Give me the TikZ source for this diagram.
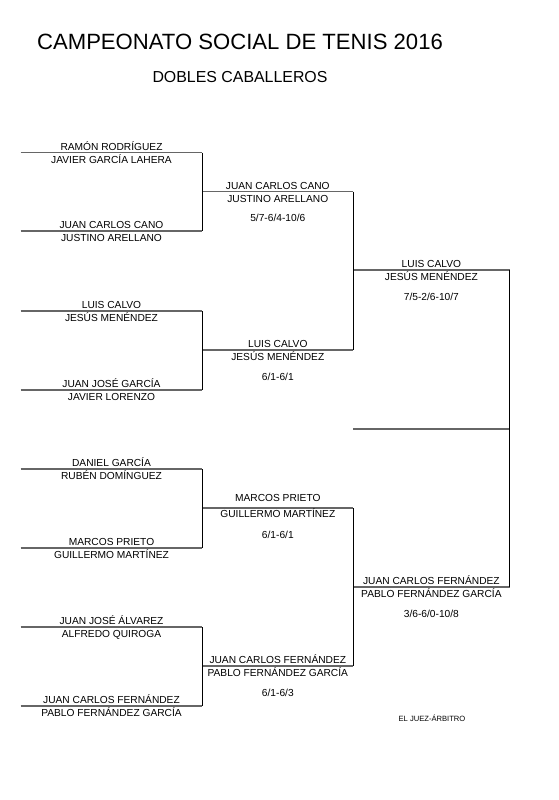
\documentclass[tikz,border=0pt]{standalone}
\usepackage{fontspec}
\setmainfont{Liberation Sans}
\newcommand\matchslot[8]{%
  \coordinate (#1-s) at (#2,#4);
  \coordinate (#1-e) at (#3,#4);
  \draw[hline] (#1-s) -- (#1-e);
  \node[pname] (#1-t) at ({(#2+#3)/2},{#4-#7}) {#5};
  \node[pname] (#1-b) at ({(#2+#3)/2},{#4+#8}) {#6};
}
\newcommand\scoreat[5]{%
  \node[pname] (#1-sc) at ({(#2+#3)/2},{#4+30}) {#5};
}
\begin{document}
\begin{tikzpicture}[x=1pt,y=-1pt,
  hline/.style={draw=black!60, line width=1.2pt},
  vline/.style={draw=black, line width=1.6pt},
  pname/.style={font=\fontsize{10.2}{12}\selectfont, inner sep=0pt, anchor=base},
  titlestyle/.style={font=\fontsize{22.1}{26}\selectfont, inner sep=0pt, anchor=base},
  subtitlestyle/.style={font=\fontsize{15.9}{19}\selectfont, inner sep=0pt, anchor=base},
  smallnote/.style={font=\fontsize{7.6}{9}\selectfont, inner sep=0pt, anchor=base}]
\useasboundingbox (0,0) rectangle (559,800);
\node[titlestyle] (title) at (240,50) {CAMPEONATO SOCIAL DE TENIS 2016};
\node[subtitlestyle] (subtitle) at (240,82) {DOBLES CABALLEROS};
% round 1
\matchslot{a1}{20.7}{202.3}{152.5}{RAMÓN RODRÍGUEZ}{JAVIER GARCÍA LAHERA}{2.5}{10.5}
\matchslot{a2}{20.7}{202.3}{231}{JUAN CARLOS CANO}{JUSTINO ARELLANO}{2.5}{10.5}
\matchslot{a3}{20.7}{202.3}{311}{LUIS CALVO}{JESÚS MENÉNDEZ}{2.5}{10.5}
\matchslot{a4}{20.7}{202.3}{390}{JUAN JOSÉ GARCÍA}{JAVIER LORENZO}{2.5}{10.5}
\matchslot{a5}{20.7}{202.3}{469}{DANIEL GARCÍA}{RUBÉN DOMÍNGUEZ}{2.5}{10.5}
\matchslot{a6}{20.7}{202.3}{548}{MARCOS PRIETO}{GUILLERMO MARTÍNEZ}{2.5}{10.5}
\matchslot{a7}{20.7}{202.3}{627}{JUAN JOSÉ ÁLVAREZ}{ALFREDO QUIROGA}{2.5}{10.5}
\matchslot{a8}{20.7}{202.3}{706}{JUAN CARLOS FERNÁNDEZ}{PABLO FERNÁNDEZ GARCÍA}{2.5}{10.5}
% round 2
\matchslot{b1}{202.3}{353.3}{191.5}{JUAN CARLOS CANO}{JUSTINO ARELLANO}{2.5}{10.5}
\scoreat{b1}{202.3}{353.3}{191.5}{5/7-6/4-10/6}
\matchslot{b2}{202.3}{353.3}{350}{LUIS CALVO}{JESÚS MENÉNDEZ}{2.5}{10.5}
\scoreat{b2}{202.3}{353.3}{350}{6/1-6/1}
\matchslot{b3}{202.3}{353.3}{508}{MARCOS PRIETO}{GUILLERMO MARTÍNEZ}{6.5}{9.5}
\scoreat{b3}{202.3}{353.3}{508}{6/1-6/1}
\matchslot{b4}{202.3}{353.3}{666}{JUAN CARLOS FERNÁNDEZ}{PABLO FERNÁNDEZ GARCÍA}{2.5}{10.5}
\scoreat{b4}{202.3}{353.3}{666}{6/1-6/3}
% round 3
\matchslot{c1}{353.3}{509.5}{270}{LUIS CALVO}{JESÚS MENÉNDEZ}{2.5}{10.5}
\scoreat{c1}{353.3}{509.5}{270}{7/5-2/6-10/7}
\matchslot{c2}{353.3}{509.5}{587}{JUAN CARLOS FERNÁNDEZ}{PABLO FERNÁNDEZ GARCÍA}{2.5}{10.5}
\scoreat{c2}{353.3}{509.5}{587}{3/6-6/0-10/8}
% final
\coordinate (f-s) at (353.3,429);
\coordinate (f-e) at (509.5,429);
\draw[hline] (f-s) -- (f-e);
% verticals
\draw[vline] (a1-e) -- (a2-e);
\draw[vline] (a3-e) -- (a4-e);
\draw[vline] (a5-e) -- (a6-e);
\draw[vline] (a7-e) -- (a8-e);
\draw[vline] (b1-e) -- (b2-e);
\draw[vline] (b3-e) -- (b4-e);
\draw[vline] (c1-e) -- (c2-e);
\node[smallnote] (judge) at (432,721) {EL JUEZ-ÁRBITRO};
\end{tikzpicture}
\end{document}
